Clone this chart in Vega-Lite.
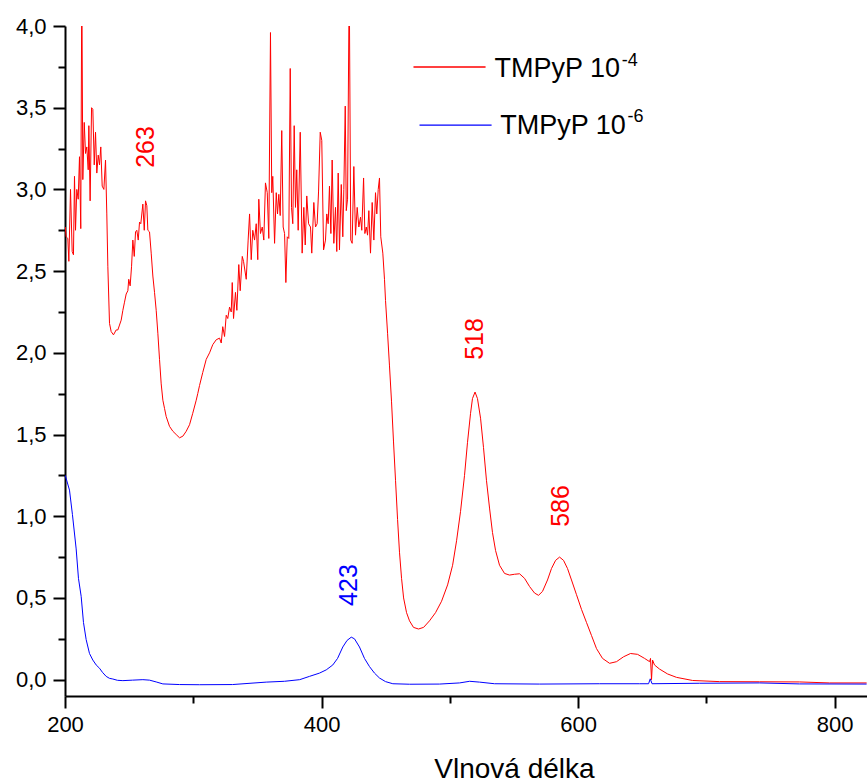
{
  "$schema": "https://vega.github.io/schema/vega-lite/v6.json",
  "width": 802,
  "height": 670,
  "autosize": "none",
  "padding": {"left": 65, "top": 26, "right": 0, "bottom": 86},
  "background": "white",
  "config": {
    "view": {"stroke": null},
    "font": "Liberation Sans",
    "axis": {
      "grid": false,
      "domainColor": "black",
      "domainWidth": 2,
      "tickColor": "black",
      "tickWidth": 2,
      "labelColor": "black",
      "labelFont": "Liberation Sans",
      "labelFontSize": 22,
      "labelOverlap": false,
      "labelFlush": false,
      "titleColor": "black",
      "titleFont": "Liberation Sans",
      "titleFontWeight": "normal"
    }
  },
  "datasets": {
    "spectra": [
      {"series":"1e-4","wl":200.2,"abs":2.77},{"series":"1e-4","wl":200.9,"abs":2.71},{"series":"1e-4","wl":202.2,"abs":2.70},{"series":"1e-4","wl":203.0,"abs":2.56},{"series":"1e-4","wl":204.3,"abs":3.0},{"series":"1e-4","wl":205.6,"abs":2.62},{"series":"1e-4","wl":206.6,"abs":2.60},{"series":"1e-4","wl":207.4,"abs":3.08},{"series":"1e-4","wl":208.2,"abs":2.75},{"series":"1e-4","wl":209.2,"abs":3.0},{"series":"1e-4","wl":210.3,"abs":2.94},{"series":"1e-4","wl":211.3,"abs":3.2},{"series":"1e-4","wl":212.3,"abs":2.76},{"series":"1e-4","wl":213.1,"abs":4.3},{"series":"1e-4","wl":213.9,"abs":3.06},{"series":"1e-4","wl":215.0,"abs":3.41},{"series":"1e-4","wl":216.0,"abs":3.22},{"series":"1e-4","wl":217.0,"abs":3.26},{"series":"1e-4","wl":218.1,"abs":3.12},{"series":"1e-4","wl":218.6,"abs":3.39},{"series":"1e-4","wl":219.6,"abs":2.93},{"series":"1e-4","wl":220.7,"abs":3.5},{"series":"1e-4","wl":221.7,"abs":3.49},{"series":"1e-4","wl":222.8,"abs":3.15},{"series":"1e-4","wl":223.8,"abs":3.35},{"series":"1e-4","wl":224.8,"abs":3.1},{"series":"1e-4","wl":225.9,"abs":3.21},{"series":"1e-4","wl":226.9,"abs":3.15},{"series":"1e-4","wl":227.9,"abs":3.26},{"series":"1e-4","wl":229.0,"abs":3.02},{"series":"1e-4","wl":230.3,"abs":3.0},{"series":"1e-4","wl":231.6,"abs":3.18},{"series":"1e-4","wl":232.6,"abs":2.85},{"series":"1e-4","wl":233.4,"abs":2.53},{"series":"1e-4","wl":234.7,"abs":2.18},{"series":"1e-4","wl":236.0,"abs":2.13},{"series":"1e-4","wl":237.8,"abs":2.11},{"series":"1e-4","wl":239.9,"abs":2.14},{"series":"1e-4","wl":241.2,"abs":2.14},{"series":"1e-4","wl":242.5,"abs":2.17},{"series":"1e-4","wl":243.8,"abs":2.20},{"series":"1e-4","wl":245.1,"abs":2.26},{"series":"1e-4","wl":246.4,"abs":2.31},{"series":"1e-4","wl":247.7,"abs":2.36},{"series":"1e-4","wl":249.0,"abs":2.38},{"series":"1e-4","wl":249.7,"abs":2.45},{"series":"1e-4","wl":250.8,"abs":2.41},{"series":"1e-4","wl":251.9,"abs":2.53},{"series":"1e-4","wl":252.9,"abs":2.69},{"series":"1e-4","wl":254.0,"abs":2.59},{"series":"1e-4","wl":255.0,"abs":2.74},{"series":"1e-4","wl":256.0,"abs":2.75},{"series":"1e-4","wl":257.1,"abs":2.69},{"series":"1e-4","wl":258.1,"abs":2.80},{"series":"1e-4","wl":259.1,"abs":2.79},{"series":"1e-4","wl":260.7,"abs":2.91},{"series":"1e-4","wl":261.8,"abs":2.75},{"series":"1e-4","wl":262.8,"abs":2.93},{"series":"1e-4","wl":263.8,"abs":2.90},{"series":"1e-4","wl":264.6,"abs":2.75},{"series":"1e-4","wl":265.9,"abs":2.74},{"series":"1e-4","wl":267.2,"abs":2.61},{"series":"1e-4","wl":268.5,"abs":2.47},{"series":"1e-4","wl":269.8,"abs":2.37},{"series":"1e-4","wl":271.1,"abs":2.26},{"series":"1e-4","wl":272.4,"abs":2.12},{"series":"1e-4","wl":273.7,"abs":1.96},{"series":"1e-4","wl":275.0,"abs":1.81},{"series":"1e-4","wl":276.3,"abs":1.71},{"series":"1e-4","wl":277.6,"abs":1.66},{"series":"1e-4","wl":278.9,"abs":1.61},{"series":"1e-4","wl":281.5,"abs":1.55},{"series":"1e-4","wl":284.1,"abs":1.52},{"series":"1e-4","wl":286.7,"abs":1.50},{"series":"1e-4","wl":289.3,"abs":1.48},{"series":"1e-4","wl":291.9,"abs":1.49},{"series":"1e-4","wl":294.5,"abs":1.52},{"series":"1e-4","wl":297.1,"abs":1.56},{"series":"1e-4","wl":299.6,"abs":1.63},{"series":"1e-4","wl":302.3,"abs":1.71},{"series":"1e-4","wl":303.5,"abs":1.75},{"series":"1e-4","wl":304.9,"abs":1.80},{"series":"1e-4","wl":307.4,"abs":1.88},{"series":"1e-4","wl":310.1,"abs":1.96},{"series":"1e-4","wl":312.7,"abs":2.0},{"series":"1e-4","wl":315.2,"abs":2.05},{"series":"1e-4","wl":317.9,"abs":2.08},{"series":"1e-4","wl":320.5,"abs":2.09},{"series":"1e-4","wl":321.8,"abs":2.06},{"series":"1e-4","wl":323.0,"abs":2.16},{"series":"1e-4","wl":324.4,"abs":2.10},{"series":"1e-4","wl":325.7,"abs":2.23},{"series":"1e-4","wl":326.9,"abs":2.21},{"series":"1e-4","wl":328.3,"abs":2.28},{"series":"1e-4","wl":329.6,"abs":2.25},{"series":"1e-4","wl":330.4,"abs":2.43},{"series":"1e-4","wl":331.4,"abs":2.21},{"series":"1e-4","wl":332.9,"abs":2.37},{"series":"1e-4","wl":334.0,"abs":2.26},{"series":"1e-4","wl":335.5,"abs":2.54},{"series":"1e-4","wl":336.6,"abs":2.38},{"series":"1e-4","wl":338.2,"abs":2.59},{"series":"1e-4","wl":339.2,"abs":2.56},{"series":"1e-4","wl":341.3,"abs":2.45},{"series":"1e-4","wl":342.8,"abs":2.69},{"series":"1e-4","wl":343.9,"abs":2.85},{"series":"1e-4","wl":345.2,"abs":2.57},{"series":"1e-4","wl":346.4,"abs":2.75},{"series":"1e-4","wl":347.8,"abs":2.69},{"series":"1e-4","wl":349.1,"abs":2.79},{"series":"1e-4","wl":350.3,"abs":2.57},{"series":"1e-4","wl":351.1,"abs":2.94},{"series":"1e-4","wl":352.4,"abs":2.73},{"series":"1e-4","wl":353.8,"abs":2.77},{"series":"1e-4","wl":355.0,"abs":2.69},{"series":"1e-4","wl":356.3,"abs":3.04},{"series":"1e-4","wl":357.7,"abs":2.98},{"series":"1e-4","wl":358.9,"abs":2.70},{"series":"1e-4","wl":360.2,"abs":3.96},{"series":"1e-4","wl":361.2,"abs":2.98},{"series":"1e-4","wl":362.0,"abs":3.08},{"series":"1e-4","wl":363.4,"abs":2.67},{"series":"1e-4","wl":364.7,"abs":2.98},{"series":"1e-4","wl":365.7,"abs":2.85},{"series":"1e-4","wl":366.7,"abs":2.97},{"series":"1e-4","wl":367.8,"abs":2.84},{"series":"1e-4","wl":369.0,"abs":3.36},{"series":"1e-4","wl":370.1,"abs":2.77},{"series":"1e-4","wl":371.2,"abs":2.73},{"series":"1e-4","wl":372.2,"abs":2.43},{"series":"1e-4","wl":373.3,"abs":2.71},{"series":"1e-4","wl":374.5,"abs":2.70},{"series":"1e-4","wl":375.6,"abs":3.74},{"series":"1e-4","wl":376.6,"abs":2.89},{"series":"1e-4","wl":377.6,"abs":2.79},{"series":"1e-4","wl":378.7,"abs":3.39},{"series":"1e-4","wl":379.7,"abs":2.89},{"series":"1e-4","wl":380.7,"abs":3.12},{"series":"1e-4","wl":381.8,"abs":2.75},{"series":"1e-4","wl":383.4,"abs":3.35},{"series":"1e-4","wl":384.9,"abs":2.61},{"series":"1e-4","wl":386.2,"abs":2.89},{"series":"1e-4","wl":387.3,"abs":2.66},{"series":"1e-4","wl":388.5,"abs":2.96},{"series":"1e-4","wl":389.9,"abs":2.79},{"series":"1e-4","wl":391.4,"abs":2.77},{"series":"1e-4","wl":392.4,"abs":2.61},{"series":"1e-4","wl":394.0,"abs":2.92},{"series":"1e-4","wl":395.3,"abs":2.77},{"series":"1e-4","wl":396.6,"abs":2.79},{"series":"1e-4","wl":397.7,"abs":2.99},{"series":"1e-4","wl":399.0,"abs":3.35},{"series":"1e-4","wl":400.2,"abs":3.30},{"series":"1e-4","wl":401.6,"abs":2.63},{"series":"1e-4","wl":403.1,"abs":2.69},{"series":"1e-4","wl":404.1,"abs":2.85},{"series":"1e-4","wl":405.2,"abs":2.79},{"series":"1e-4","wl":406.2,"abs":3.02},{"series":"1e-4","wl":407.3,"abs":2.73},{"series":"1e-4","wl":408.3,"abs":3.18},{"series":"1e-4","wl":409.6,"abs":2.67},{"series":"1e-4","wl":410.9,"abs":2.89},{"series":"1e-4","wl":411.9,"abs":2.62},{"series":"1e-4","wl":413.0,"abs":3.10},{"series":"1e-4","wl":414.0,"abs":2.63},{"series":"1e-4","wl":415.4,"abs":3.03},{"series":"1e-4","wl":416.6,"abs":2.71},{"series":"1e-4","wl":417.4,"abs":3.0},{"series":"1e-4","wl":418.5,"abs":3.51},{"series":"1e-4","wl":419.3,"abs":2.87},{"series":"1e-4","wl":420.3,"abs":2.94},{"series":"1e-4","wl":421.6,"abs":4.3},{"series":"1e-4","wl":422.8,"abs":2.69},{"series":"1e-4","wl":423.9,"abs":2.67},{"series":"1e-4","wl":425.2,"abs":3.14},{"series":"1e-4","wl":426.5,"abs":2.72},{"series":"1e-4","wl":427.8,"abs":2.89},{"series":"1e-4","wl":429.1,"abs":2.77},{"series":"1e-4","wl":430.4,"abs":2.83},{"series":"1e-4","wl":431.4,"abs":2.75},{"series":"1e-4","wl":432.8,"abs":3.07},{"series":"1e-4","wl":433.8,"abs":2.73},{"series":"1e-4","wl":434.9,"abs":2.77},{"series":"1e-4","wl":435.9,"abs":2.72},{"series":"1e-4","wl":436.9,"abs":2.87},{"series":"1e-4","wl":438.2,"abs":2.61},{"series":"1e-4","wl":439.5,"abs":2.92},{"series":"1e-4","wl":440.8,"abs":2.69},{"series":"1e-4","wl":442.1,"abs":2.98},{"series":"1e-4","wl":443.1,"abs":2.85},{"series":"1e-4","wl":444.2,"abs":3.0},{"series":"1e-4","wl":445.2,"abs":3.07},{"series":"1e-4","wl":446.2,"abs":2.71},{"series":"1e-4","wl":447.8,"abs":2.61},{"series":"1e-4","wl":449.1,"abs":2.45},{"series":"1e-4","wl":449.9,"abs":2.32},{"series":"1e-4","wl":451.5,"abs":2.12},{"series":"1e-4","wl":453.0,"abs":1.92},{"series":"1e-4","wl":454.6,"abs":1.70},{"series":"1e-4","wl":456.1,"abs":1.46},{"series":"1e-4","wl":457.7,"abs":1.22},{"series":"1e-4","wl":459.3,"abs":0.98},{"series":"1e-4","wl":460.8,"abs":0.78},{"series":"1e-4","wl":462.4,"abs":0.62},{"series":"1e-4","wl":464.0,"abs":0.50},{"series":"1e-4","wl":466.3,"abs":0.41},{"series":"1e-4","wl":468.6,"abs":0.36},{"series":"1e-4","wl":471.7,"abs":0.32},{"series":"1e-4","wl":475.6,"abs":0.31},{"series":"1e-4","wl":479.6,"abs":0.32},{"series":"1e-4","wl":484.2,"abs":0.36},{"series":"1e-4","wl":488.9,"abs":0.41},{"series":"1e-4","wl":493.6,"abs":0.48},{"series":"1e-4","wl":498.3,"abs":0.58},{"series":"1e-4","wl":502.2,"abs":0.70},{"series":"1e-4","wl":505.3,"abs":0.85},{"series":"1e-4","wl":508.4,"abs":1.03},{"series":"1e-4","wl":511.5,"abs":1.25},{"series":"1e-4","wl":513.8,"abs":1.45},{"series":"1e-4","wl":516.2,"abs":1.63},{"series":"1e-4","wl":517.7,"abs":1.72},{"series":"1e-4","wl":519.7,"abs":1.76},{"series":"1e-4","wl":521.6,"abs":1.72},{"series":"1e-4","wl":524.0,"abs":1.60},{"series":"1e-4","wl":526.3,"abs":1.42},{"series":"1e-4","wl":528.6,"abs":1.22},{"series":"1e-4","wl":531.0,"abs":1.05},{"series":"1e-4","wl":533.3,"abs":0.90},{"series":"1e-4","wl":535.7,"abs":0.79},{"series":"1e-4","wl":538.8,"abs":0.70},{"series":"1e-4","wl":542.7,"abs":0.65},{"series":"1e-4","wl":546.6,"abs":0.64},{"series":"1e-4","wl":550.5,"abs":0.645},{"series":"1e-4","wl":554.4,"abs":0.648},{"series":"1e-4","wl":558.3,"abs":0.62},{"series":"1e-4","wl":562.2,"abs":0.57},{"series":"1e-4","wl":566.1,"abs":0.53},{"series":"1e-4","wl":569.2,"abs":0.516},{"series":"1e-4","wl":572.3,"abs":0.54},{"series":"1e-4","wl":576.2,"abs":0.61},{"series":"1e-4","wl":579.3,"abs":0.68},{"series":"1e-4","wl":582.5,"abs":0.73},{"series":"1e-4","wl":585.6,"abs":0.75},{"series":"1e-4","wl":588.7,"abs":0.73},{"series":"1e-4","wl":591.8,"abs":0.68},{"series":"1e-4","wl":594.9,"abs":0.61},{"series":"1e-4","wl":598.8,"abs":0.52},{"series":"1e-4","wl":602.7,"abs":0.43},{"series":"1e-4","wl":606.6,"abs":0.35},{"series":"1e-4","wl":610.5,"abs":0.27},{"series":"1e-4","wl":614.4,"abs":0.19},{"series":"1e-4","wl":619.1,"abs":0.13},{"series":"1e-4","wl":624.6,"abs":0.10},{"series":"1e-4","wl":630.0,"abs":0.11},{"series":"1e-4","wl":635.5,"abs":0.14},{"series":"1e-4","wl":640.9,"abs":0.16},{"series":"1e-4","wl":646.4,"abs":0.155},{"series":"1e-4","wl":651.9,"abs":0.13},{"series":"1e-4","wl":655.8,"abs":0.11},{"series":"1e-4","wl":656.5,"abs":0.13},{"series":"1e-4","wl":657.3,"abs":0.0},{"series":"1e-4","wl":658.1,"abs":0.12},{"series":"1e-4","wl":659.6,"abs":0.09},{"series":"1e-4","wl":663.5,"abs":0.065},{"series":"1e-4","wl":669.8,"abs":0.035},{"series":"1e-4","wl":676.8,"abs":0.014},{"series":"1e-4","wl":689.3,"abs":-0.005},{"series":"1e-4","wl":710.3,"abs":-0.012},{"series":"1e-4","wl":741.5,"abs":-0.013},{"series":"1e-4","wl":772.7,"abs":-0.014},{"series":"1e-4","wl":796.1,"abs":-0.02},{"series":"1e-4","wl":825.0,"abs":-0.02},
      {"series":"1e-6","wl":200.2,"abs":1.25},{"series":"1e-6","wl":203.5,"abs":1.16},{"series":"1e-6","wl":205.8,"abs":1.01},{"series":"1e-6","wl":208.7,"abs":0.80},{"series":"1e-6","wl":210.5,"abs":0.62},{"series":"1e-6","wl":212.6,"abs":0.51},{"series":"1e-6","wl":214.4,"abs":0.35},{"series":"1e-6","wl":216.5,"abs":0.245},{"series":"1e-6","wl":219.1,"abs":0.16},{"series":"1e-6","wl":221.7,"abs":0.12},{"series":"1e-6","wl":224.3,"abs":0.09},{"series":"1e-6","wl":226.9,"abs":0.07},{"series":"1e-6","wl":229.2,"abs":0.045},{"series":"1e-6","wl":232.1,"abs":0.02},{"series":"1e-6","wl":234.7,"abs":0.008},{"series":"1e-6","wl":237.3,"abs":0.004},{"series":"1e-6","wl":240.9,"abs":-0.004},{"series":"1e-6","wl":245.1,"abs":-0.006},{"series":"1e-6","wl":252.6,"abs":-0.003},{"series":"1e-6","wl":260.7,"abs":0.0},{"series":"1e-6","wl":265.9,"abs":-0.003},{"series":"1e-6","wl":271.1,"abs":-0.014},{"series":"1e-6","wl":276.3,"abs":-0.026},{"series":"1e-6","wl":289.3,"abs":-0.03},{"series":"1e-6","wl":304.9,"abs":-0.031},{"series":"1e-6","wl":330.6,"abs":-0.03},{"series":"1e-6","wl":356.9,"abs":-0.015},{"series":"1e-6","wl":371.1,"abs":-0.01},{"series":"1e-6","wl":383.0,"abs":0.0},{"series":"1e-6","wl":390.6,"abs":0.02},{"series":"1e-6","wl":398.4,"abs":0.04},{"series":"1e-6","wl":403.7,"abs":0.06},{"series":"1e-6","wl":408.8,"abs":0.09},{"series":"1e-6","wl":412.5,"abs":0.13},{"series":"1e-6","wl":416.6,"abs":0.2},{"series":"1e-6","wl":419.9,"abs":0.24},{"series":"1e-6","wl":423.2,"abs":0.26},{"series":"1e-6","wl":425.7,"abs":0.25},{"series":"1e-6","wl":429.6,"abs":0.2},{"series":"1e-6","wl":433.5,"abs":0.13},{"series":"1e-6","wl":437.4,"abs":0.08},{"series":"1e-6","wl":441.3,"abs":0.04},{"series":"1e-6","wl":445.2,"abs":0.01},{"series":"1e-6","wl":449.9,"abs":-0.012},{"series":"1e-6","wl":455.6,"abs":-0.025},{"series":"1e-6","wl":468.6,"abs":-0.028},{"series":"1e-6","wl":492.0,"abs":-0.027},{"series":"1e-6","wl":507.6,"abs":-0.02},{"series":"1e-6","wl":515.5,"abs":-0.01},{"series":"1e-6","wl":523.2,"abs":-0.015},{"series":"1e-6","wl":534.9,"abs":-0.025},{"series":"1e-6","wl":570.0,"abs":-0.027},{"series":"1e-6","wl":616.8,"abs":-0.025},{"series":"1e-6","wl":648.0,"abs":-0.025},{"series":"1e-6","wl":655.0,"abs":-0.025},{"series":"1e-6","wl":656.3,"abs":0.005},{"series":"1e-6","wl":657.7,"abs":-0.025},{"series":"1e-6","wl":694.7,"abs":-0.022},{"series":"1e-6","wl":741.5,"abs":-0.02},{"series":"1e-6","wl":772.7,"abs":-0.026},{"series":"1e-6","wl":825.0,"abs":-0.027}
    ],
    "legendLines": [
      {"series":"1e-4","wl":471.7,"wl2":527.9,"abs":3.749},
      {"series":"1e-6","wl":476.4,"wl2":532.6,"abs":3.394}
    ],
    "legendText": [
      {"label":"TMPyP 10","wl":534.9,"abs":3.688},
      {"label":"TMPyP 10","wl":539.3,"abs":3.339}
    ],
    "legendSup": [
      {"label":"-4","wl":634.0,"abs":3.755},
      {"label":"-6","wl":638.6,"abs":3.413}
    ],
    "peaks": [
      {"series":"1e-4","label":"263","wl":263.5,"abs":3.26},
      {"series":"1e-4","label":"518","wl":519.7,"abs":2.085},
      {"series":"1e-4","label":"586","wl":587.1,"abs":1.063},
      {"series":"1e-6","label":"423","wl":421.8,"abs":0.579}
    ]
  },
  "layer": [
    {
      "data": {"name": "spectra"},
      "mark": {"type": "line", "strokeWidth": 1, "clip": true, "interpolate": "linear"},
      "encoding": {
        "x": {
          "field": "wl", "type": "quantitative",
          "scale": {"domain": [200, 825.3], "nice": false, "zero": false},
          "axis": {
            "values": [200, 300, 400, 500, 600, 700, 800],
            "labelExpr": "datum.value % 200 == 0 ? datum.label : ''",
            "tickSize": {"condition": {"test": "datum.value % 200 == 0", "value": 12}, "value": 7},
            "labelPadding": 6,
            "title": "Vlnová délka",
            "titleFontSize": 28,
            "titleX": 449,
            "titleY": 81,
            "titleBaseline": "alphabetic"
          }
        },
        "y": {
          "field": "abs", "type": "quantitative",
          "scale": {"domain": [-0.1, 4.0], "nice": false, "zero": false},
          "axis": {
            "values": [0, 0.25, 0.5, 0.75, 1, 1.25, 1.5, 1.75, 2, 2.25, 2.5, 2.75, 3, 3.25, 3.5, 3.75, 4],
            "labelExpr": "datum.value % 0.5 == 0 ? replace(format(datum.value, '.1f'), '.', ',') : ''",
            "tickSize": {"condition": {"test": "datum.value % 0.5 == 0", "value": 12}, "value": 7},
            "labelPadding": 7,
            "title": null
          }
        },
        "color": {
          "field": "series", "type": "nominal",
          "scale": {"domain": ["1e-4", "1e-6"], "range": ["#ff0000", "#0000ff"]},
          "legend": null
        }
      }
    },
    {
      "mark": {"type": "rule", "color": "black", "strokeWidth": 2},
      "encoding": {"y": {"datum": 4}}
    },
    {
      "data": {"name": "legendLines"},
      "mark": {"type": "rule", "strokeWidth": 1.3},
      "encoding": {
        "x": {"field": "wl", "type": "quantitative"},
        "x2": {"field": "wl2"},
        "y": {"field": "abs", "type": "quantitative"},
        "color": {"field": "series", "type": "nominal", "legend": null}
      }
    },
    {
      "data": {"name": "legendText"},
      "mark": {"type": "text", "align": "left", "baseline": "alphabetic", "fontSize": 27, "color": "black", "font": "Liberation Sans"},
      "encoding": {
        "x": {"field": "wl", "type": "quantitative"},
        "y": {"field": "abs", "type": "quantitative"},
        "text": {"field": "label"}
      }
    },
    {
      "data": {"name": "legendSup"},
      "mark": {"type": "text", "align": "left", "baseline": "alphabetic", "fontSize": 18, "color": "black", "font": "Liberation Sans"},
      "encoding": {
        "x": {"field": "wl", "type": "quantitative"},
        "y": {"field": "abs", "type": "quantitative"},
        "text": {"field": "label"}
      }
    },
    {
      "data": {"name": "peaks"},
      "mark": {"type": "text", "align": "center", "baseline": "middle", "angle": 270, "fontSize": 25, "font": "Liberation Sans"},
      "encoding": {
        "x": {"field": "wl", "type": "quantitative"},
        "y": {"field": "abs", "type": "quantitative"},
        "text": {"field": "label"},
        "color": {"field": "series", "type": "nominal", "legend": null}
      }
    }
  ]
}
